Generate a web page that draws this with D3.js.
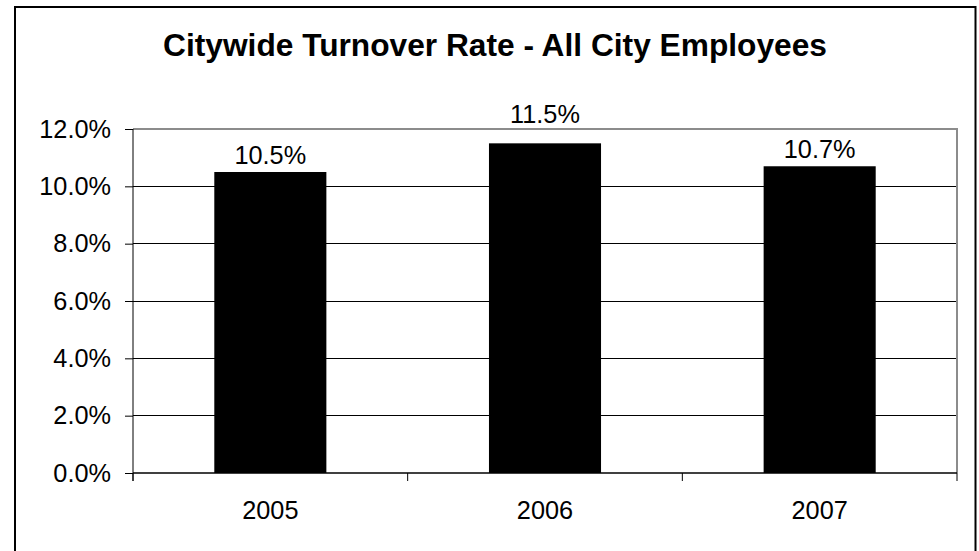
<!DOCTYPE html>
<html>
<head>
<meta charset="utf-8">
<script src="https://cdn.jsdelivr.net/npm/d3@7"></script>
<style>
  html, body { margin: 0; padding: 0; background: #fff; }
  svg { display: block; font-family: "Liberation Sans", Arial, sans-serif; }
</style>
</head>
<body>
<div id="chart"></div>
<script>
// chart data
const title = "Citywide Turnover Rate - All City Employees";
const years = ["2005", "2006", "2007"];
const rates = [10.5, 11.5, 10.7];
const yTicks = [0, 2, 4, 6, 8, 10, 12];

const W = 979, H = 551;
const plot = { left: 133, right: 957, top: 129, bottom: 473 };
const fs = 25.3;

const svg = d3.select("#chart")
  .append("svg")
  .attr("width", W)
  .attr("height", H);

// outer chart frame (runs past the bottom of the picture)
svg.append("rect")
  .attr("x", 15).attr("y", 7)
  .attr("width", 960.5).attr("height", 560)
  .attr("fill", "#fff")
  .attr("stroke", "#000")
  .attr("stroke-width", 2);

svg.append("text")
  .attr("x", 495)
  .attr("y", 56)
  .attr("text-anchor", "middle")
  .attr("font-size", 31.7)
  .attr("font-weight", "bold")
  .text(title);

const x = d3.scaleBand()
  .domain(years)
  .range([plot.left, plot.right])
  .paddingInner(0.592)
  .paddingOuter(0.296);

const y = d3.scaleLinear()
  .domain([0, 12])
  .range([plot.bottom, plot.top]);

// gridlines
svg.append("g")
  .selectAll("line")
  .data(yTicks.filter(d => d > 0 && d < 12))
  .enter()
  .append("line")
  .attr("x1", plot.left).attr("x2", plot.right)
  .attr("y1", d => y(d)).attr("y2", d => y(d))
  .attr("stroke", "#000")
  .attr("stroke-width", 1)
  .attr("shape-rendering", "crispEdges");

// plot area border (top and right are gray)
svg.append("path")
  .attr("d", `M${plot.left},${y(12)}H${plot.right}V${plot.bottom}`)
  .attr("fill", "none")
  .attr("stroke", "#8c8c8c")
  .attr("stroke-width", 2);

// bars
svg.append("g")
  .selectAll("rect")
  .data(rates)
  .enter()
  .append("rect")
  .attr("x", (d, i) => x(years[i]))
  .attr("y", d => y(d))
  .attr("width", x.bandwidth())
  .attr("height", d => y(0) - y(d))
  .attr("fill", "#000");

// value labels, lifted above the plot border when they would cross it
const labelY = d => {
  const ly = y(d) - 8.5;
  return (ly - 18 < plot.top && ly > plot.top) ? plot.top - 6 : ly;
};
svg.append("g")
  .selectAll("text")
  .data(rates)
  .enter()
  .append("text")
  .attr("x", (d, i) => x(years[i]) + x.bandwidth() / 2)
  .attr("y", labelY)
  .attr("text-anchor", "middle")
  .attr("font-size", fs)
  .text(d => d.toFixed(1) + "%");

// y axis
const yAxis = d3.axisLeft(y)
  .tickValues(yTicks)
  .tickFormat(d => d.toFixed(1) + "%")
  .tickSize(8)
  .tickPadding(14);

const gy = svg.append("g")
  .attr("transform", `translate(${plot.left},0)`)
  .call(yAxis);
gy.select(".domain").attr("d", `M0,${plot.top}V${plot.bottom + 8}`);
gy.selectAll("text")
  .attr("font-size", fs)
  .attr("font-family", "Liberation Sans, Arial, sans-serif")
  .attr("fill", "#000");
gy.selectAll("line").attr("stroke", "#000");

// x axis: ticks on category boundaries
const gx = svg.append("g");
gx.append("line")
  .attr("x1", plot.left).attr("x2", plot.right)
  .attr("y1", y(0)).attr("y2", y(0))
  .attr("stroke", "#000")
  .attr("stroke-width", 1.5);

const step = x.step();
gx.selectAll("line.tick")
  .data(d3.range(years.length + 1))
  .enter()
  .append("line")
  .attr("class", "tick")
  .attr("x1", i => plot.left + i * step)
  .attr("x2", i => plot.left + i * step)
  .attr("y1", y(0)).attr("y2", y(0) + 8)
  .attr("stroke", "#000");

gx.selectAll("text")
  .data(years)
  .enter()
  .append("text")
  .attr("x", d => x(d) + x.bandwidth() / 2)
  .attr("y", 519)
  .attr("text-anchor", "middle")
  .attr("font-size", fs)
  .text(d => d);
</script>
</body>
</html>
